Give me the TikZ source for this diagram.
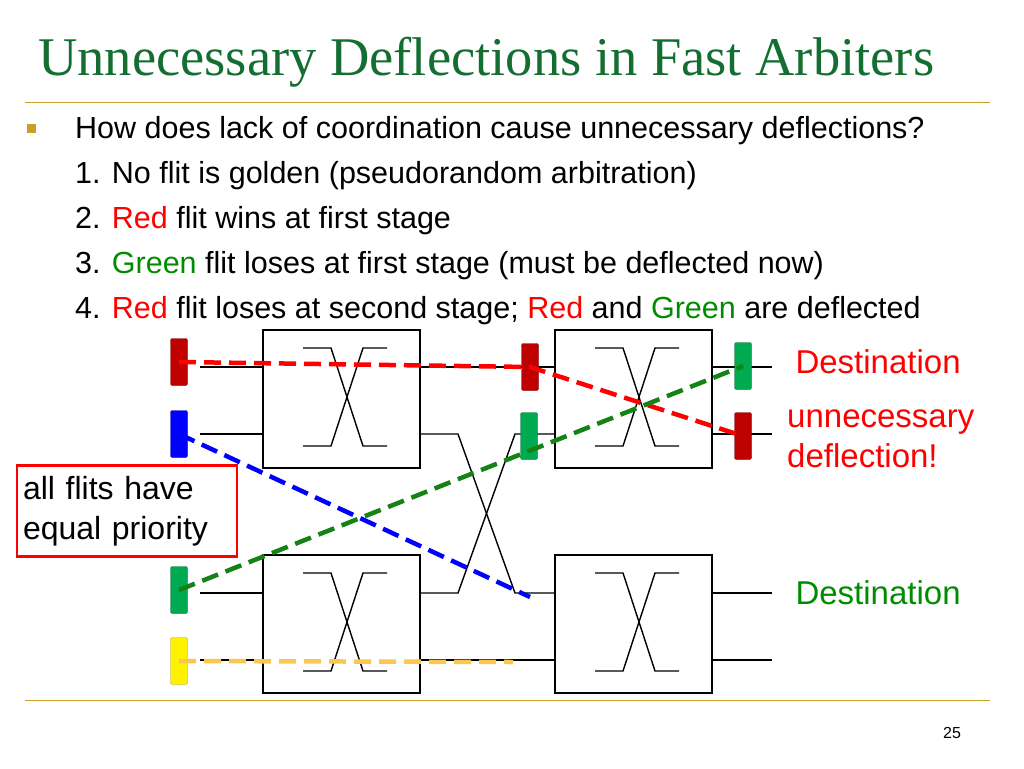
\documentclass[tikz,border=0pt]{standalone}
\usepackage{fontspec}
\setmainfont{Liberation Sans}
\newfontfamily\titlefont{Liberation Serif}
\usepackage{xcolor}
\usetikzlibrary{positioning}
\definecolor{titlegreen}{RGB}{20,110,50}
\definecolor{rulegold}{RGB}{200,160,40}
\definecolor{flitred}{RGB}{190,0,0}
\definecolor{flitgreen}{RGB}{0,170,80}
\definecolor{txtgreen}{RGB}{0,140,0}
\definecolor{pathgreen}{RGB}{20,130,20}
\definecolor{pathyellow}{RGB}{250,200,80}
\tikzset{
    switchbox/.style = {draw=black, line width=1.6pt, outer sep=0pt, minimum width=157pt, minimum height=138pt, inner sep=0pt},
    flit/.style = {draw=#1!60!black, fill=#1, rounded corners=2pt, minimum width=17pt, minimum height=47pt, inner sep=0pt},
    wire/.style = {black, line width=1.4pt},
    route/.style = {line width=4.5pt, dash pattern=on 17pt off 8pt, #1},
    item/.style = {anchor=base west, inner sep=0pt, font=\fontsize{30.5}{34}\selectfont},
    label/.style = {font=\fontsize{33}{40}\selectfont}
}
\newcommand{\crossmark}[1]{%
  \draw[wire] ([xshift=40pt,yshift=-18pt]#1.north west) -- ++(28,0) -- ++(32,98) -- ++(24,0)
              ([xshift=40pt,yshift=22pt]#1.south west) -- ++(28,0) -- ++(32,-98) -- ++(24,0);}
\begin{document}
\begin{tikzpicture}[x=1pt,y=-1pt]
\useasboundingbox (0,0) rectangle (1024,768);
% title and rules
\node[anchor=base west, inner sep=0pt, text=titlegreen, font=\titlefont\fontsize{54.5}{60}\selectfont] (title) at (38,75) {Unnecessary Deflections in Fast Arbiters};
\draw[rulegold, thick] (25,102) -- (990,102);
\draw[rulegold, thick] (25,700) -- (990,700);
\node[fill=rulegold, minimum size=9pt, inner sep=0pt] (bullet) at (31,128) {};
\node[item] (q) at (75,138) {How does lack of coordination cause unnecessary deflections?};
\node[item] (s1) at (75,183) {1. No flit is golden (pseudorandom arbitration)};
\node[item] (s2) at (75,228) {2. \textcolor{red}{Red} flit wins at first stage};
\node[item] (s3) at (75,273) {3. \textcolor{txtgreen}{Green} flit loses at first stage (must be deflected now)};
\node[item] (s4) at (75,318) {4. \textcolor{red}{Red} flit loses at second stage; \textcolor{red}{Red} and \textcolor{txtgreen}{Green} are deflected};
\node[font=\fontsize{16}{18}\selectfont] (page) at (952,733) {25};
% switches
\node[switchbox] (sw1) at (341.5,399) {};
\node[switchbox] (sw2) at (633.5,399) {};
\node[switchbox] (sw3) at (341.5,624) {};
\node[switchbox] (sw4) at (633.5,624) {};
\crossmark{sw1} \crossmark{sw2} \crossmark{sw3} \crossmark{sw4}
% wires
\coordinate (in1) at (200,367); \coordinate (in2) at (200,434);
\coordinate (in3) at (200,593); \coordinate (in4) at (200,660);
\coordinate (out1) at (772,367); \coordinate (out2) at (772,434);
\coordinate (out3) at (772,593); \coordinate (out4) at (772,660);
\draw[wire] (in1) -- (in1 -| sw1.west) (in2) -- (in2 -| sw1.west)
            (in3) -- (in3 -| sw3.west) (in4) -- (in4 -| sw3.west)
            (out1) -- (out1 -| sw2.east) (out2) -- (out2 -| sw2.east)
            (out3) -- (out3 -| sw4.east) (out4) -- (out4 -| sw4.east);
\draw[wire] (sw1.east |- in1) -- (sw2.west |- in1);
\draw[wire] (sw3.east |- in4) -- (sw4.west |- in4);
\draw[wire] (sw1.east |- in2) -- (458,434) -- (515,593) -- (sw4.west |- in3);
\draw[wire] (sw3.east |- in3) -- (458,593) -- (515,434) -- (sw2.west |- in2);
% flits
\node[flit=flitred] (fr) at (179,362) {};
\node[flit=blue] (fb) at (179,434) {};
\node[flit=flitgreen] (fg) at (179,590) {};
\node[flit=yellow] (fy) at (179,661) {};
\node[flit=flitred] (mr) at (530,367) {};
\node[flit=flitgreen] (mg) at (529,436) {};
\node[flit=flitgreen] (dg) at (743,366) {};
\node[flit=flitred] (dr) at (743,436) {};
% routes
\draw[route=red] (fr.center) -- (mr.center) -- (dr.center);
\draw[route=blue] (fb.center) -- (530,597);
\draw[route=pathgreen] (fg.center) -- (dg.center);
\draw[route=pathyellow] (fy.center) -- (513,662);
% labels
\node[label, anchor=west, text=red] (dest1) at (792,362) {Destination};
\node[label, anchor=north west, align=left, text=red, inner sep=0pt] (defl) at (787,410) {unnecessary\\deflection!};
\node[label, anchor=west, text=txtgreen] (dest2) at (792,593) {Destination};
\node[draw=red, line width=2.5pt, align=left, minimum width=220pt, minimum height=91pt, text width=208pt, font=\fontsize{32}{40}\selectfont] (note) at (127,511) {all flits have\\equal priority};
\end{tikzpicture}
\end{document}
